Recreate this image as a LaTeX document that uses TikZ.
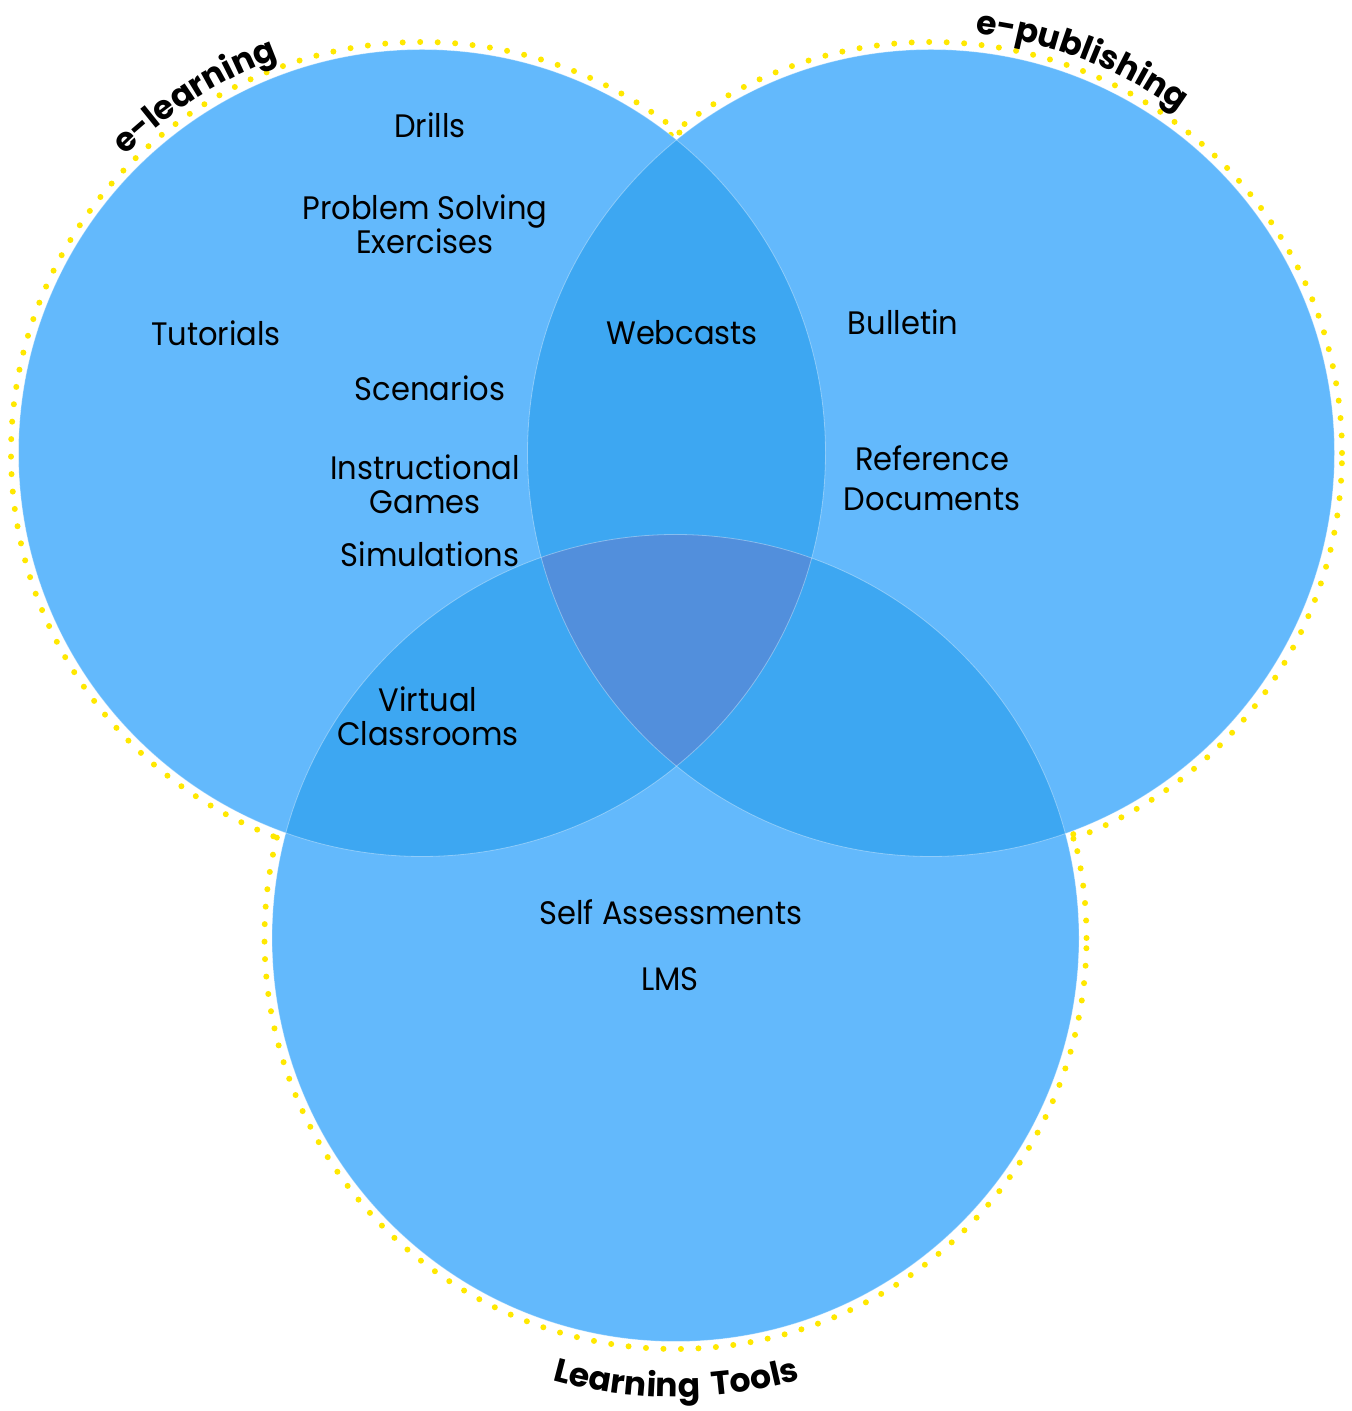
\documentclass[tikz,border=0pt]{standalone}
\usepackage{fontspec}
\setmainfont{Poppins}
\newfontfamily\bodyfont[FakeStretch=0.94]{Poppins}
\usetikzlibrary{decorations.text}
\definecolor{base}{RGB}{99,185,252}
\definecolor{ovl}{RGB}{61,167,242}
\definecolor{tri}{RGB}{82,143,220}
\definecolor{dotc}{RGB}{255,232,0}
\newcommand\titlefont{\bfseries\fontsize{33}{33}\selectfont}
\tikzset{
  bodytext/.style={inner sep=0pt, align=center, font=\bodyfont\fontsize{32.5}{34}\selectfont, text=black},
  dotring/.style={draw=dotc, line width=6pt, line cap=round, dash pattern=on 0pt off 17.5pt},
  rim/.style={draw=white, draw opacity=0.35, line width=0.8pt},
}
\begin{document}
\begin{tikzpicture}[x=1pt,y=1pt]
\useasboundingbox (0,0) rectangle (1352,1411);
\coordinate (A) at (422,958);
\coordinate (B) at (931,958);
\coordinate (C) at (675.5,473);
\def\R{403.5}
\foreach \c in {A,B,C} \draw[dotring] (\c) circle[radius=411];
\foreach \c in {A,B,C} \fill[base] (\c) circle[radius=\R];
\begin{scope}
  \clip (A) circle[radius=\R];
  \fill[ovl] (B) circle[radius=\R];
  \fill[ovl] (C) circle[radius=\R];
\end{scope}
\begin{scope}
  \clip (B) circle[radius=\R];
  \fill[ovl] (C) circle[radius=\R];
\end{scope}
\begin{scope}
  \clip (A) circle[radius=\R];
  \clip (B) circle[radius=\R];
  \fill[tri] (C) circle[radius=\R];
\end{scope}
\foreach \c in {A,B,C} \draw[rim] (\c) circle[radius=\R];

\path[decorate, decoration={text along path, text align=center,
  text={|\titlefont|e-learning}}]
  ([shift={(160.5:420)}]A) arc[start angle=160.5, end angle=84.5, radius=420];
\path[decorate, decoration={text along path, text align=center,
  text={|\titlefont|e-publishing}}]
  ([shift={(105:422)}]B) arc[start angle=105, end angle=33, radius=422];
\path[decorate, decoration={text along path, text align=center,
  text={|\titlefont|Learning}}]
  ([shift={(233.8:459)}]C) arc[start angle=233.8, end angle=293.8, radius=459];
\path[decorate, decoration={text along path, text align=center,
  text={|\titlefont|Tools}}]
  ([shift={(250.2:459)}]C) arc[start angle=250.2, end angle=310.2, radius=459];

\node[bodytext] (drills) at (430,1286) {Drills};
\node[bodytext] (pse) at (425,1187) {Problem Solving\\Exercises};
\node[bodytext] (tut) at (216,1078) {Tutorials};
\node[bodytext] (scen) at (430,1023) {Scenarios};
\node[bodytext] (ig) at (425,927) {Instructional\\Games};
\node[bodytext] (sim) at (430,857) {Simulations};
\node[bodytext] (web) at (682,1078) {Webcasts};
\node[bodytext] (bul) at (903,1089) {Bulletin};
\node[bodytext, font=\bodyfont\fontsize{32.5}{40}\selectfont] (ref) at (932,933) {Reference\\Documents};
\node[bodytext] (vc) at (428,695) {Virtual\\Classrooms};
\node[bodytext] (sa) at (671,499) {Self Assessments};
\node[bodytext] (lms) at (670,432) {LMS};
\end{tikzpicture}
\end{document}
